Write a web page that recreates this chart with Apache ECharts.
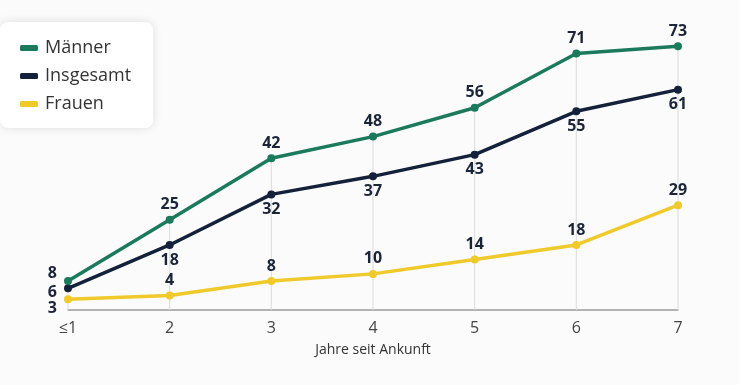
<!DOCTYPE html>
<html><head><meta charset="utf-8">
<script src="https://cdn.jsdelivr.net/npm/echarts@6/dist/echarts.min.js"></script>
<style>html,body{margin:0;padding:0;background:#fbfbfb}#c{width:739px;height:385px}</style>
</head><body><div id="c"></div>
<script>
const categories = ['≤1','2','3','4','5','6','7'];
const maenner = [8,25,42,48,56,71,73];
const insgesamt = [6,18,32,37,43,55,61];
const frauen = [3,4,8,10,14,18,29];
const guides = maenner.map((v,i)=>Math.max(v,insgesamt[i],frauen[i]));

function items(arr, pos, firstOffset){
  return arr.map((v,i)=> i===0 ? {value:v, label:{position:'left', distance:7, offset:[0,firstOffset]}} : {value:v, label:{position:pos}});
}
const lbl = {show:true, fontSize:16, fontWeight:'bold', color:'#1b2538', fontFamily:'Open Sans', distance:3};
const chart = echarts.init(document.getElementById('c'));
chart.setOption({
  backgroundColor:'#fbfbfb',
  animation:false,
  grid:{left:68, right:61, top:21, bottom:75},
  legend:{
    left:0, top:22, orient:'vertical',
    data:['Männer','Insgesamt','Frauen'],
    backgroundColor:'#ffffff', borderRadius:8,
    shadowBlur:10, shadowColor:'rgba(0,0,0,0.12)',
    padding:[17,22,15,20], itemGap:10,
    itemWidth:18, itemHeight:6, icon:'roundRect',
    textStyle:{fontSize:18, color:'#333', fontFamily:'Open Sans', padding:[0,0,0,2]}
  },
  xAxis:{
    type:'category', data:categories, boundaryGap:false,
    name:'Jahre seit Ankunft', nameLocation:'middle', nameGap:33,
    nameTextStyle:{fontSize:14, color:'#333', fontFamily:'Open Sans'},
    axisLine:{lineStyle:{color:'#9a9a9a', width:1.5}},
    axisTick:{show:false},
    axisLabel:{fontSize:16, color:'#444', margin:10, fontFamily:'Open Sans'}
  },
  yAxis:{type:'value', min:0, max:80, show:false, splitLine:{show:false}},
  series:[
    {type:'bar', data:guides, barWidth:1, silent:true, itemStyle:{color:'#dcdcdc'}, barGap:'-100%', z:1, legendHoverLink:false},
    {name:'Frauen', type:'line', data:items(frauen,'top',9), color:'#f0c92b', lineStyle:{width:3.5}, symbol:'circle', symbolSize:8, label:lbl, z:3},
    {name:'Insgesamt', type:'line', data:items(insgesamt,'bottom',4), color:'#14213a', lineStyle:{width:3.5}, symbol:'circle', symbolSize:8, label:lbl, z:4},
    {name:'Männer', type:'line', data:items(maenner,'top',-8), color:'#1b7a5c', lineStyle:{width:3.5}, symbol:'circle', symbolSize:8, label:lbl, z:5}
  ]
});
</script></body></html>
